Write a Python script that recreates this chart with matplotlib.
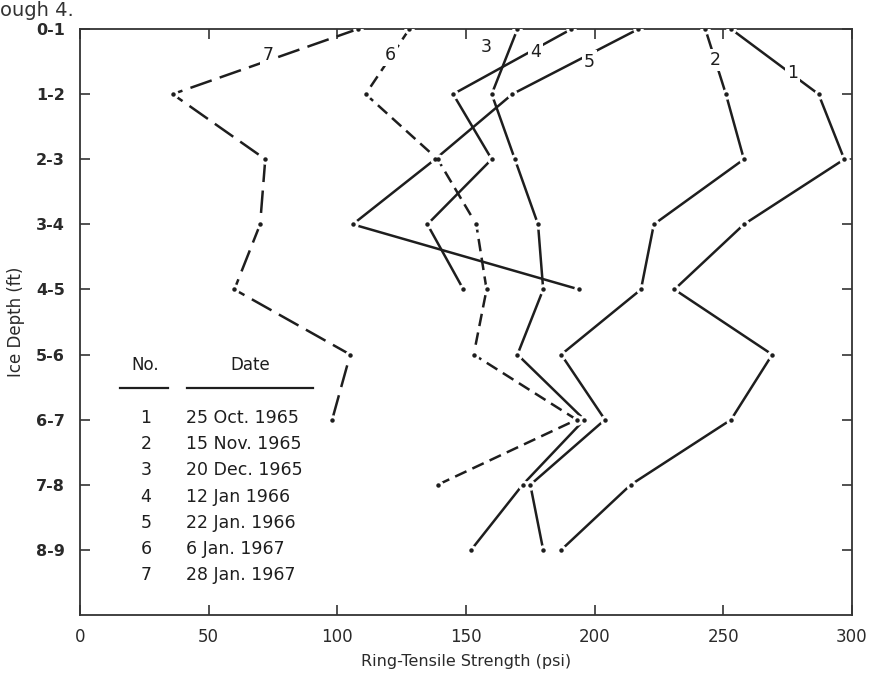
import matplotlib
matplotlib.use('Agg')
import matplotlib.pyplot as plt

# depth classes (row 0 = top of ice)
depth_labels = ['0-1', '1-2', '2-3', '3-4', '4-5', '5-6', '6-7', '7-8', '8-9']

# ring-tensile strength (psi) per depth
s1 = [253, 287, 297, 258, 231, 269, 253, 214, 187]
s2 = [243, 251, 258, 223, 218, 187, 204, 175, 180]
s3 = [170, 160, 169, 178, 180, 170, 196, 172, 152]
s4 = [191, 145, 160, 135, 149]
s5 = [217, 168, 138, 106, 194]
s6 = [128, 111, 139, 154, 158, 153, 193, 139]
s7 = [108, 36, 72, 70, 60, 105, 98]

nos = ['1', '2', '3', '4', '5', '6', '7']
dates = ['25 Oct. 1965', '15 Nov. 1965', '20 Dec. 1965', '12 Jan 1966',
         '22 Jan. 1966', '6 Jan. 1967', '28 Jan. 1967']

ink = '#1e1e1e'
series = [s1, s2, s3, s4, s5, s6, s7]
styles = ['-', '-', '-', '-', '-', (0, (5, 2.6)), (0, (9, 3.4))]

fig = plt.figure(figsize=(8.76, 6.78), dpi=100)
ax = fig.add_axes([0.0913, 0.0929, 0.8813, 0.8643])

for s, ls in zip(series, styles):
    ax.plot(s, range(len(s)), color=ink, lw=1.8, ls=ls, zorder=2,
            solid_capstyle='butt', dash_capstyle='butt')
# small break around each measured point, then the point itself
for s in series:
    ax.plot(s, range(len(s)), ls='none', marker='o', ms=6.5, mfc='white',
            mec='white', zorder=3)
    ax.plot(s, range(len(s)), ls='none', marker='o', ms=2.2, mfc=ink,
            mec=ink, zorder=4)

# curve numbers
lab_pos = [(277, 0.68), (247, 0.47), (158, 0.28), (177, 0.36),
           (198, 0.5), (120.5, 0.4), (73, 0.4)]
for n, (x, y) in zip(nos, lab_pos):
    ax.text(x, y, n, ha='center', va='center', fontsize=12.5, color=ink,
            zorder=5, bbox=dict(fc='white', ec='none', pad=1.5))

# date table
ax.text(25.3, 5.16, 'No.', ha='center', va='center', fontsize=12, color=ink)
ax.text(66, 5.16, 'Date', ha='center', va='center', fontsize=12, color=ink)
ax.plot([15.5, 34.2], [5.51, 5.51], color=ink, lw=1.6)
ax.plot([41.6, 90.6], [5.51, 5.51], color=ink, lw=1.6)
for i, (n, d) in enumerate(zip(nos, dates)):
    y = 5.98 + i * 0.4
    ax.text(25.6, y, n, ha='center', va='center', fontsize=12.5, color=ink)
    ax.text(41.2, y, d, ha='left', va='center', fontsize=12.5, color=ink)

ax.set_xlim(0, 300)
ax.set_ylim(9, 0)
ax.set_xticks(range(0, 301, 50))
ax.set_yticks(range(len(depth_labels)))
ax.set_yticklabels(depth_labels, fontweight='bold')
ax.tick_params(axis='both', direction='in', length=7, width=1.2,
               color='#333333', labelcolor='#2a2a2a', labelsize=12)
ax.tick_params(axis='x', top=True, pad=9)
ax.tick_params(axis='y', right=True, pad=11, labelsize=11.5)
for sp in ax.spines.values():
    sp.set_color('#333333')
    sp.set_linewidth(1.3)

ax.set_xlabel('Ring-Tensile Strength (psi)', fontsize=11.5, color='#2a2a2a',
              labelpad=6)
ax.set_ylabel('Ice Depth (ft)', fontsize=12, color='#2a2a2a', labelpad=8)

# leftover line of running text above the figure
fig.text(0.0, 0.977, 'ough 4.', fontsize=14, color='#333333', va='baseline')

fig.savefig('out.png', dpi=100, facecolor='white')
